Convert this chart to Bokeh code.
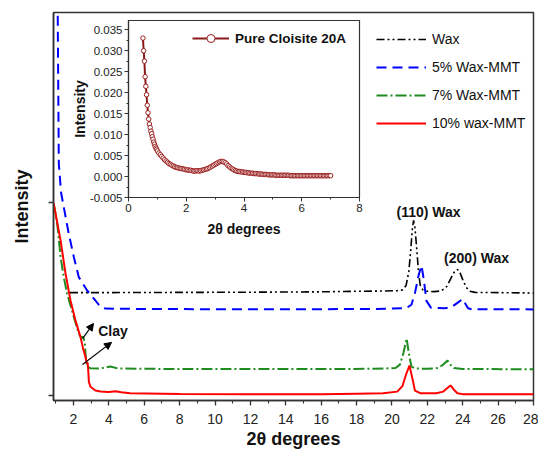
from bokeh.plotting import figure
from bokeh.layouts import column
from bokeh.models import (FixedTicker, Legend, LegendItem, Label, Arrow, NormalHead,
                          PrintfTickFormatter)
from bokeh.embed import file_html
from bokeh.resources import INLINE

FONT = "Liberation Sans"

# ---------------- main chart data ----------------
wax_x = [1.8, 4, 8, 12, 16, 18, 19.5, 20.3, 20.6, 20.8, 20.95, 21.05, 21.15, 21.22, 21.3, 21.4,
         21.5, 21.6, 21.75, 22.0, 22.4, 22.8, 23.1, 23.35, 23.55, 23.7, 23.85, 24.0, 24.2, 24.4, 24.7, 28]
wax_y = [0.533, 0.533, 0.534, 0.535, 0.537, 0.540, 0.541, 0.543, 0.547, 0.57, 0.64, 0.74, 0.86, 0.907,
         0.87, 0.76, 0.64, 0.57, 0.547, 0.540, 0.538, 0.542, 0.565, 0.61, 0.645, 0.653, 0.635, 0.60,
         0.56, 0.540, 0.534, 0.531]

mmt5_x = [1.10, 1.11, 1.17, 1.30, 1.73, 2.02, 2.30, 2.77, 3.24, 3.53, 3.81, 6, 10, 15, 19, 20.8, 21.1,
          21.3, 21.5, 21.67, 21.8, 21.95, 22.2, 23.0, 23.4, 23.7, 24.0, 24.15, 24.3, 24.5, 28]
mmt5_y = [2.05, 1.96, 1.20, 1.05, 0.839, 0.717, 0.613, 0.544, 0.492, 0.458, 0.450, 0.448, 0.447, 0.447,
          0.448, 0.452, 0.47, 0.53, 0.62, 0.674, 0.60, 0.49, 0.455, 0.452, 0.46, 0.48, 0.50, 0.475,
          0.452, 0.447, 0.446]

mmt7_x = [0.88, 1.08, 1.27, 1.45, 1.64, 2.02, 2.30, 2.45, 2.55, 2.64, 2.70, 2.78, 2.96, 3.5, 4.09, 4.5,
          6, 10, 15, 19, 20.2, 20.45, 20.65, 20.83, 20.95, 21.1, 21.3, 22, 22.6, 22.9, 23.14, 23.3, 23.5,
          24, 28]
mmt7_y = [0.995, 0.890, 0.717, 0.613, 0.527, 0.406, 0.32, 0.30, 0.305, 0.27, 0.19, 0.15, 0.141, 0.140,
          0.150, 0.140, 0.138, 0.137, 0.137, 0.138, 0.142, 0.16, 0.22, 0.295, 0.22, 0.15, 0.14, 0.138,
          0.142, 0.16, 0.181, 0.16, 0.142, 0.137, 0.136]

mmt10_x = [0.88, 1.27, 1.55, 1.83, 2.11, 2.40, 2.55, 2.68, 2.74, 2.80, 2.84, 2.87, 2.96, 3.24, 3.53, 4.0,
           4.37, 4.7, 5.2, 8, 12, 16, 18, 19.5, 20.3, 20.6, 20.8, 20.99, 21.15, 21.3, 21.6, 22.5, 22.9,
           23.15, 23.31, 23.5, 23.7, 24.0, 28]
mmt10_y = [0.995, 0.803, 0.632, 0.492, 0.389, 0.301, 0.24, 0.20, 0.168, 0.17, 0.12, 0.07, 0.045, 0.026,
           0.021, 0.018, 0.022, 0.017, 0.012, 0.008, 0.006, 0.006, 0.009, 0.011, 0.02, 0.05, 0.11, 0.155,
           0.09, 0.025, 0.012, 0.012, 0.02, 0.04, 0.052, 0.03, 0.012, 0.007, 0.006]

series_names = ["Wax", "5% Wax-MMT", "7% Wax-MMT", "10% wax-MMT"]

x_ticks = list(range(2, 29, 2))
x_minor = list(range(1, 28, 2))
y_ticks = [0, 1]

# annotations (data coordinates)
peak_labels = ["(110) Wax", "(200) Wax", "Clay"]
peak_label_x = [22.07, 24.78, 4.23]
peak_label_y = [0.948, 0.71, 0.332]
arrow_x0 = [2.51, 2.51]
arrow_y0 = [0.295, 0.161]
arrow_x1 = [3.13, 4.15]
arrow_y1 = [0.373, 0.275]

# ---------------- inset data ----------------
clay_x = [0.500, 0.525, 0.550, 0.575, 0.600, 0.625, 0.650, 0.675, 0.700, 0.725, 0.750, 0.775, 0.800,
          0.825, 0.850, 0.875, 0.900, 0.925, 0.950, 0.975,
          1.00, 1.05, 1.10, 1.15, 1.20, 1.25, 1.30, 1.35, 1.40, 1.45, 1.50, 1.55, 1.60, 1.65, 1.70,
          1.75, 1.80, 1.85, 1.90, 1.95, 2.00, 2.05, 2.10, 2.15, 2.20, 2.25, 2.30, 2.35, 2.40, 2.45,
          2.50, 2.55, 2.60, 2.65, 2.70, 2.75, 2.80, 2.85, 2.90, 2.95, 3.00, 3.05, 3.10, 3.15, 3.20,
          3.25, 3.30, 3.35, 3.40, 3.45, 3.50, 3.55, 3.60, 3.65, 3.70, 3.75, 3.80, 3.85, 3.90, 3.95,
          4.00, 4.05, 4.10, 4.15, 4.20, 4.25, 4.30, 4.35, 4.40, 4.45, 4.50, 4.55, 4.60, 4.65, 4.70,
          4.75, 4.80, 4.85, 4.90, 4.95, 5.00, 5.05, 5.10, 5.15, 5.20, 5.25, 5.30, 5.35, 5.40, 5.45,
          5.50, 5.55, 5.60, 5.65, 5.70, 5.75, 5.80, 5.85, 5.90, 5.95, 6.00, 6.05, 6.10, 6.15, 6.20,
          6.25, 6.30, 6.35, 6.40, 6.45, 6.50, 6.55, 6.60, 6.65, 6.70, 6.75, 6.80, 6.85, 6.90, 6.95,
          7.00]
clay_y = [0.0330, 0.0300, 0.0275, 0.0238, 0.0215, 0.0195, 0.0170, 0.0152, 0.0137, 0.0125, 0.0117,
          0.0108, 0.0102, 0.0095, 0.0089, 0.0082, 0.0077, 0.0072, 0.0068, 0.0065,
          0.0061, 0.0056, 0.0052, 0.0048, 0.0044, 0.0040, 0.0037, 0.0034, 0.0031, 0.0029, 0.0027,
          0.0025, 0.0023, 0.0022, 0.0021, 0.0020, 0.0019, 0.0019, 0.0018, 0.0017, 0.0016, 0.0016,
          0.0015, 0.0015, 0.0014, 0.0013, 0.0013, 0.0014, 0.0014, 0.0013, 0.0014, 0.0015, 0.0016,
          0.0017, 0.0018, 0.0019, 0.0021, 0.0023, 0.0025, 0.0027, 0.0029, 0.0031, 0.0033, 0.0035,
          0.0036, 0.0036, 0.0035, 0.0033, 0.0030, 0.0026, 0.0023, 0.0020, 0.0018, 0.0016, 0.0014,
          0.0013, 0.0012, 0.0012, 0.0011, 0.0011, 0.0010, 0.0010, 0.0009, 0.0009, 0.0008, 0.0008,
          0.0008, 0.0007, 0.0007, 0.0007, 0.0006, 0.0006, 0.0006, 0.0005, 0.0005, 0.0005, 0.0005,
          0.0004, 0.0004, 0.0004, 0.0004, 0.0004, 0.0003, 0.0003, 0.0003, 0.0003, 0.0003, 0.0003,
          0.0003, 0.0003, 0.0003, 0.0003, 0.0002, 0.0002, 0.0002, 0.0002, 0.0002, 0.0002, 0.0002,
          0.0002, 0.0002, 0.0002, 0.0002, 0.0002, 0.0002, 0.0002, 0.0002, 0.0002, 0.0002, 0.0002,
          0.0002, 0.0002, 0.0002, 0.0002, 0.0002, 0.0002, 0.0002, 0.0002, 0.0002, 0.0002, 0.0002]
inset_name = "Pure Cloisite 20A"
inset_x_ticks = [0, 2, 4, 6, 8]
inset_x_minor = [1, 3, 5, 7]
inset_y_ticks = [-0.005, 0.0, 0.005, 0.010, 0.015, 0.020, 0.025, 0.030, 0.035]
inset_y_minor = [-0.0025, 0.0025, 0.0075, 0.0125, 0.0175, 0.0225, 0.0275, 0.0325]

# ---------------- main figure ----------------
p = figure(width=538, height=452, x_range=(0.87, 28), y_range=(-0.026, 1.984),
           output_backend="svg", toolbar_location=None,
           min_border_left=53, min_border_top=12, min_border_right=5, min_border_bottom=52)
p.frame_align = False
p.grid.visible = False
p.outline_line_color = "#333333"
p.outline_line_width = 1.5
p.background_fill_color = "white"
p.border_fill_color = "white"

colors = ["black", "#0000FF", "#1E8C1E", "#FF0000"]
dashes = ["8 3 2 3 2 3", "10 6", "11 3 2 3", "solid"]
widths = [1.6, 2, 2, 2]
data = [(wax_x, wax_y), (mmt5_x, mmt5_y), (mmt7_x, mmt7_y), (mmt10_x, mmt10_y)]
items = []
for (xs, ys), c, d, w, name in zip(data, colors, dashes, widths, series_names):
    r = p.line(xs, ys, line_color=c, line_dash=d, line_width=w)
    items.append(LegendItem(label=name, renderers=[r]))

legend = Legend(items=items, location=(323, 267), border_line_alpha=0, background_fill_alpha=0,
                glyph_width=50, glyph_height=20, label_height=20, spacing=8, padding=0, margin=0,
                label_standoff=6, label_text_font=FONT, label_text_font_size="14px",
                label_text_color="#111111")
p.add_layout(legend)

xa = p.xaxis[0]
xa.ticker = FixedTicker(ticks=x_ticks, minor_ticks=x_minor)
ya = p.yaxis[0]
ya.ticker = FixedTicker(ticks=y_ticks, minor_ticks=[])
for ax in (xa, ya):
    ax.axis_line_color = "#333333"
    ax.axis_line_width = 1.5
    ax.major_tick_line_color = "#333333"
    ax.minor_tick_line_color = "#333333"
    ax.major_tick_line_width = 1.3
    ax.minor_tick_line_width = 1.1
    ax.major_tick_in = 0
    ax.major_tick_out = 5
    ax.minor_tick_in = 0
    ax.minor_tick_out = 3
    ax.axis_label_text_font = FONT
    ax.axis_label_text_font_style = "bold"
    ax.axis_label_text_font_size = "18px"
    ax.axis_label_text_color = "#111111"
    ax.major_label_text_font = FONT
    ax.major_label_text_font_size = "14px"
    ax.major_label_text_color = "#222222"
xa.axis_label = "2θ degrees"
xa.major_label_standoff = 8
xa.axis_label_standoff = 2
ya.axis_label = "Intensity"
ya.major_label_standoff = 0
ya.major_label_overrides = {0: "", 1: ""}
ya.axis_label_standoff = 17

for t, x, y in zip(peak_labels, peak_label_x, peak_label_y):
    p.add_layout(Label(x=x, y=y, text=t, text_align="center", text_baseline="middle",
                       text_font=FONT, text_font_size="14px", text_font_style="bold",
                       text_color="#111111"))
for x0, y0, x1, y1 in zip(arrow_x0, arrow_y0, arrow_x1, arrow_y1):
    p.add_layout(Arrow(x_start=x0, y_start=y0, x_end=x1, y_end=y1, line_width=1.2,
                       line_color="black",
                       end=NormalHead(size=7, fill_color="black", line_color="black")))

# ---------------- inset figure ----------------
q = figure(width=305, height=223, x_range=(0, 8), y_range=(-0.005, 0.0372),
           output_backend="svg", toolbar_location=None,
           min_border_left=66, min_border_top=4, min_border_right=8, min_border_bottom=42)
q.frame_align = False
q.grid.visible = False
q.outline_line_color = "#333333"
q.outline_line_width = 1.2
q.background_fill_alpha = 0
q.border_fill_alpha = 0
rc = q.line(clay_x, clay_y, line_color="#8B1A1A", line_width=2)
rm = q.scatter(clay_x, clay_y, marker="circle", size=4.5, line_color="#9B2020", fill_color="white",
               line_width=1)
ilegend = Legend(items=[LegendItem(label=inset_name, renderers=[rc, rm])], location=(64, 149),
                 border_line_alpha=0, background_fill_alpha=0, glyph_width=37, glyph_height=20,
                 label_height=20, padding=0, margin=0, label_standoff=6, label_text_font=FONT,
                 label_text_font_size="13.5px", label_text_font_style="bold",
                 label_text_color="#111111")
q.add_layout(ilegend)
qx = q.xaxis[0]
qy = q.yaxis[0]
qx.ticker = FixedTicker(ticks=inset_x_ticks, minor_ticks=inset_x_minor)
qy.ticker = FixedTicker(ticks=inset_y_ticks, minor_ticks=inset_y_minor)
qy.formatter = PrintfTickFormatter(format="%.3f")
for ax in (qx, qy):
    ax.axis_line_color = "#333333"
    ax.axis_line_width = 1.2
    ax.major_tick_line_color = "#333333"
    ax.minor_tick_line_color = "#333333"
    ax.major_tick_in = 0
    ax.major_tick_out = 4
    ax.minor_tick_in = 0
    ax.minor_tick_out = 2
    ax.major_label_standoff = 2
    ax.axis_label_text_font = FONT
    ax.axis_label_text_font_style = "bold"
    ax.axis_label_text_font_size = "14px"
    ax.axis_label_text_color = "#111111"
    ax.major_label_text_font = FONT
    ax.major_label_text_font_size = "11.5px"
    ax.major_label_text_color = "#222222"
qx.axis_label = "2θ degrees"
qx.axis_label_standoff = 6
qy.axis_label = "Intensity"
qy.axis_label_standoff = -1

q.styles = {"position": "absolute", "left": "62px", "top": "16px"}

layout = column(p, q)
open("out.html", "w").write(file_html(layout, INLINE))
